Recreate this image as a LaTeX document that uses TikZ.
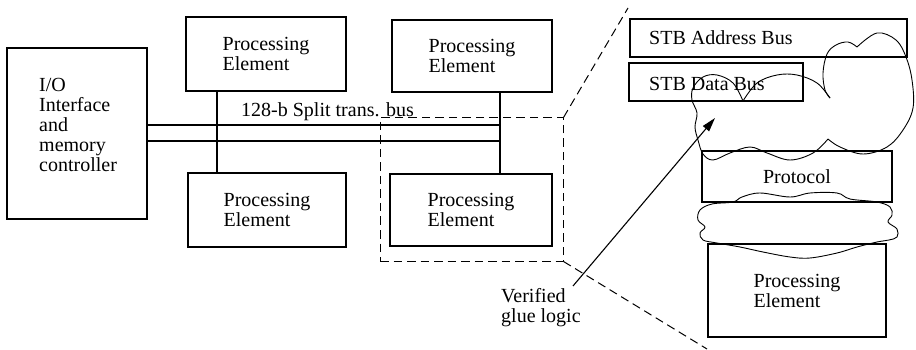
\documentclass[tikz,border=0pt]{standalone}
\usepackage{fontspec}
\setmainfont{Liberation Serif}
\usetikzlibrary{arrows.meta}
\begin{document}
\begin{tikzpicture}[x=1pt,y=-1pt,
  every node/.style={font=\fontsize{20}{20}\selectfont},
  box/.style={draw, line width=1.2pt, inner sep=0pt, align=left},
  txt/.style={inner sep=0pt, align=left},
  bus/.style={line width=1.8pt},
  link/.style={line width=1.6pt},
  zoomline/.style={line width=1pt, dash pattern=on 8.5pt off 5pt},
  cloudline/.style={line width=0.9pt, line join=round},
]
\useasboundingbox (0,0) rectangle (916,350);

% ---- left part: controller, processing elements and the split-transaction bus
\node[box, minimum width=140pt, minimum height=171pt] (io) at (77,133.5) {};
\node[txt, anchor=north west] (iotext) at (39,78.3) {I/O\\Interface\\and\\memory\\controller};

\node[box, minimum width=160pt, minimum height=74pt] (pe1) at (266,54) {Processing\\Element};
\node[box, minimum width=158pt, minimum height=74pt] (pe2) at (267,210) {Processing\\Element};
\node[box, minimum width=160pt, minimum height=72pt] (pe3) at (472,56) {Processing\\Element};
\node[box, minimum width=162pt, minimum height=72pt] (pe4) at (471,210) {Processing\\Element};

\coordinate (busA) at (500,125);
\coordinate (busB) at (500,141);
\draw[bus] (io.east |- busA) -- (busA);
\draw[bus] (io.east |- busB) -- (busB);
\draw[link] (pe1.south -| 217,0) -- (pe2.north -| 217,0);
\draw[link] (pe3.south -| busA) -- (pe4.north -| busA);

\node[txt, anchor=base west] (buslabel) at (241,117) {128-b Split trans. bus};

% ---- region that is shown enlarged on the right
\node[draw, zoomline, inner sep=0pt, minimum width=183pt, minimum height=143pt] (glue) at (471.5,189.5) {};
\coordinate (zoomtop) at (628,8);
\coordinate (zoombot) at (707,349);
\draw[zoomline] (glue.north east) -- (zoomtop);
\draw[zoomline] (glue.south east) -- (zoombot);

% ---- enlarged view
\node[box, minimum width=277pt, minimum height=38pt] (abus) at (768.5,38) {};
\node[txt, anchor=base west] (abustext) at (649,45) {STB Address Bus};
\node[box, minimum width=174pt, minimum height=38pt] (dbus) at (716,82) {};
\node[txt, anchor=base west] (dbustext) at (649,91) {STB Data Bus};
\node[box, minimum width=190pt, minimum height=51pt] (proto) at (797,176.5) {Protocol};
\node[box, minimum width=178pt, minimum height=93pt] (pe5) at (797,290.5) {Processing\\Element};

% glue logic cloud (hand-drawn outline, cusps between lobes)
\draw[cloudline] plot[smooth, tension=0.6] coordinates {(743,101) (733,83) (717,75) (703,77) (693,88) (692,100) (697,113) (695,127) (698,140) (703,154) (713,160) (730,153) (750,147) (767,153) (790,160) (813,153) (828,139)};
\draw[cloudline] plot[smooth, tension=0.6] coordinates {(828,139) (840,147) (863,154) (887,147) (903,130) (913,108) (912,80) (906,57) (896,40) (877,33) (857,47)};
\draw[cloudline] plot[smooth, tension=0.6] coordinates {(857,47) (848,42) (836,45) (827,54) (823,73) (825,90) (830,98)};
\draw[cloudline] plot[smooth, tension=0.6] coordinates {(830,98) (817,83) (797,75) (777,75) (757,83) (743,101)};

% lower cloud between protocol and processing element
\draw[cloudline] plot[smooth cycle, tension=0.6] coordinates {(700,210) (712,204) (733,202) (742,197) (760,193) (790,197) (810,193) (837,193) (850,199) (877,202) (890,207) (892,215) (888,222) (897,229) (897,237) (889,240) (877,242) (857,247) (837,253) (810,258) (790,257) (763,252) (740,247) (717,243) (703,240) (700,233) (705,227) (698,220)};

% ---- annotation
\node[txt, anchor=north west] (vg) at (501,288.3) {Verified\\glue logic};
\coordinate (vgstart) at (573,286);
\coordinate (vgtip) at (715,118);
\draw[line width=1.1pt, -{Triangle[length=14pt, width=8pt]}] (vgstart) -- (vgtip);
\end{tikzpicture}
\end{document}
